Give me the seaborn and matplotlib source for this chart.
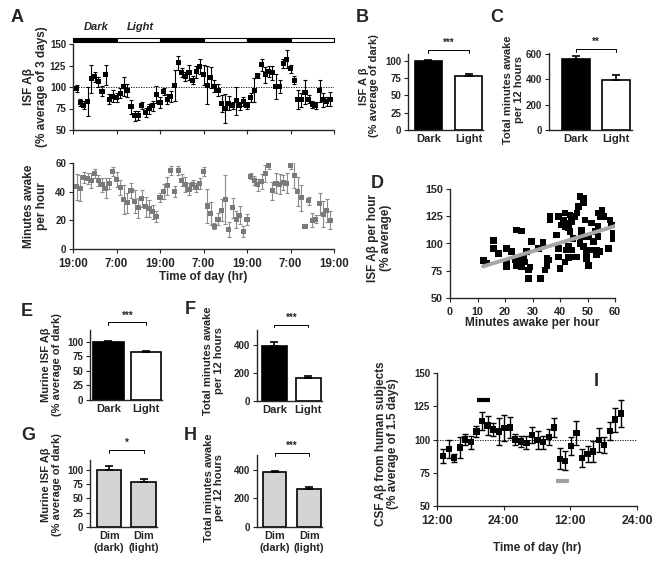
import numpy as np
import pandas as pd
import seaborn as sns
import matplotlib.pyplot as plt

sns.set_style('ticks')
plt.rcParams['font.family'] = ['Liberation Sans', 'DejaVu Sans']
plt.rcParams['font.weight'] = 'bold'
plt.rcParams['axes.labelweight'] = 'bold'
plt.rcParams['axes.linewidth'] = 1.0
plt.rcParams['xtick.major.size'] = 3
plt.rcParams['ytick.major.size'] = 3

# ---- data: panel A (hourly microdialysis / sleep) ----
hours_a = [1, 2, 3, 4, 5, 6, 7, 8, 9, 10, 11, 12, 13, 14, 15, 16, 17, 18, 19, 20,
           21, 22, 23, 24, 25, 26, 27, 28, 29, 30, 31, 32, 33, 34, 35, 36, 37, 38, 39, 40,
           41, 42, 43, 44, 45, 46, 47, 48, 49, 50, 51, 52, 53, 54, 55, 56, 57, 58, 59, 60,
           61, 62, 63, 64, 65, 66, 67, 68, 69, 70, 71]
isf_ab = [98, 82, 79, 83, 109.5, 112, 106, 95, 114, 86, 89, 88, 93, 101, 96, 77, 66.5, 67, 79, 70.5,
          74.5, 78, 91, 82, 95, 86, 89, 102, 128, 117, 112, 117, 108, 118, 124, 114, 102, 111, 101, 96,
          81, 75, 81, 79, 84, 78, 83, 79, 87.5, 96, 113, 126, 114, 118, 116.5, 100.5, 100.5, 127, 132.5, 121,
          108, 86, 85, 94, 86, 80, 79, 95.5, 85, 83, 86]
isf_ab_err = [4, 4, 5, 17, 16, 6, 6, 6, 12, 6, 7, 5, 6, 11, 8, 8, 6, 5, 4, 5,
              6, 6, 10, 6, 4, 6, 6, 18, 8, 5, 5, 9, 5, 7, 9, 12, 22, 12, 7, 7,
              10, 17, 8, 4, 16, 5, 5, 4, 5, 14, 2, 7, 9, 6, 8, 15, 8, 5, 10, 5,
              5, 11, 8, 14, 5, 4, 4, 13, 8, 5, 8]
awake = [43.5, 42.3, 50, 49.3, 47.7, 52.8, 47.7, 44.7, 42.3, 45.8, 54, 48.6, 42.8, 34.7, 32.3, 40.7, 33, 28.8, 35.1, 29.5,
         28.4, 26, 22.6, 35.8, 40, 44, 54.6, 40, 54.6, 48.1, 45.1, 41.7, 45.1, 42.8, 45.8, 54, 30, 24.9, 16, 20.9,
         27.2, 34.7, 13.7, 28.8, 20.7, 23.7, 12.1, 20.7, 50.9, 47.7, 44.7, 47, 52.8, 58.6, 40.5, 45.8, 45.1, 46.3, 45.8, 58.6,
         51.6, 40, 35.8, 15.6, 33.5, 20.2, 20.9, 31.4, 24.4, 26.7, 20.2]
awake_err = [9, 9, 4, 4, 5, 3, 4, 5, 7, 4, 3, 5, 5, 10, 7, 5, 8, 7, 6, 7,
             6, 5, 4, 3, 5, 6, 3, 4, 3, 4, 5, 4, 3, 3, 4, 3, 12, 8, 2, 4,
             8, 17, 5, 7, 6, 6, 4, 4, 2, 3, 4, 5, 6, 3, 6, 7, 7, 5, 7, 3,
             9, 10, 9, 1, 3, 5, 3, 8, 9, 8, 6]
phase_start = [0, 12, 24, 36, 48, 60]
phase = ['Dark', 'Light', 'Dark', 'Light', 'Dark', 'Light']
time_ticks_a = [0, 12, 24, 36, 48, 60, 72]
time_labels_a = ['19:00', '7:00', '19:00', '7:00', '19:00', '7:00', '19:00']

# ---- bar panels ----
cats_dl = ['Dark', 'Light']
cats_dim = ['Dim\n(dark)', 'Dim\n(light)']
b_mean, b_err = [100, 78], [1, 3]
c_mean, c_err = [555, 390], [25, 45]
e_mean, e_err = [100, 83], [2, 1.5]
f_mean, f_err = [390, 165], [30, 15]
g_mean, g_err = [100, 79], [7, 4]
h_mean, h_err = [385, 270], [5, 8]

# ---- panel D scatter ----
d_awake = [12.1, 13.3, 15.8, 15.8, 17.6, 20.6, 20.6, 20.6, 22.4, 23.6, 24.2, 24.2, 26, 24.8, 26, 26,
           26.7, 27.3, 27.9, 28.5, 28.5, 29.1, 29.7, 32.1, 33, 33.9, 34.5, 35.2, 35.8, 35.2, 36.4, 36.4,
           38.8, 39.4, 39.4, 39.4, 40, 40.6, 41.2, 41.8, 41.8, 42.4, 43, 43.6, 41.8, 42.4, 43, 43,
           43.6, 44.2, 44.8, 45.5, 46.1, 46.1, 44.8, 44.2, 46.7, 47.3, 47.9, 47.3, 48.5, 48.5, 47.9, 48.5,
           49.1, 49.7, 49.7, 50.3, 50.3, 50.9, 51.5, 52.1, 52.7, 53.3, 53.3, 53.9, 54.5, 53.9, 55.2, 55.8,
           57.6, 58.2, 58.8, 59.4, 59.4, 54.5, 53.9]
d_isf = [84.2, 82.3, 102.6, 95.5, 91, 95.5, 81.7, 79, 92.5, 84.8, 80, 112.5, 111.5, 86.3, 83.2, 78.6,
         88.5, 83.2, 92.5, 75.5, 67.8, 78.6, 101.7, 95.5, 67.8, 100.8, 75.5, 80, 84.8, 86.3, 124.8, 121.7,
         107.8, 124.8, 95.5, 87.8, 77, 117, 121.7, 127.8, 115.5, 118.6, 114, 111, 83.2, 94, 97.1, 87.2,
         126.3, 120.2, 104.8, 124.8, 127.8, 87.8, 87.8, 94, 134, 100.2, 112.5, 143.2, 141.7, 137, 106.3, 97.1,
         121.7, 91, 86.3, 80, 106.3, 94, 118.6, 101.7, 111, 94, 89.4, 127.8, 124.8, 115.5, 130.9, 124.8,
         95.5, 121.7, 117, 109.4, 104.8, 92.5, 106.3]
d_fit_x = [12, 60]
d_fit_y = [79, 116]

# ---- panel I (human CSF) ----
hours_i = [13.1, 14.1, 15.1, 16.1, 17.1, 18.1, 19.1, 20.1, 21.1, 22.1, 23.1, 24.1, 25.1, 26.1, 27.1, 28.1, 29.1,
           30.1, 31.1, 32.1, 33.1, 34.1, 35.1, 36.1, 37.1, 38.1, 39.1, 40.1, 41.1, 42.1, 43.1, 44.1, 45.1]
csf_ab = [87.5, 93, 86, 94, 100, 98, 106, 114, 110.5, 107.5, 106, 108.5, 109, 100, 98.5, 97.5, 103.5,
          99.5, 98, 102, 109, 85.5, 84, 95, 105, 86, 89, 91, 99.5, 96, 106.5, 115, 119.5]
csf_err = [5, 7, 3, 8, 4, 5, 4, 7, 7, 5, 10, 10, 8, 4, 4, 5, 6, 7, 5, 6, 7, 8, 7, 7, 9, 7, 6, 8, 9, 6, 7, 9, 10]
i_ticks = [12, 24, 36, 48]
i_labels = ['12:00', '24:00', '12:00', '24:00']

W, H = 662, 567
fig = plt.figure(figsize=(W / 100, H / 100), dpi=100)


def add_ax(left, top, right, bottom):
    # pixel box -> figure fraction
    return fig.add_axes([left / W, 1 - bottom / H, (right - left) / W, (bottom - top) / H])


def letter(x, y, s):
    fig.text(x / W, 1 - y / H, s, fontsize=13, fontweight='bold', ha='center', va='center')


def sig(ax, y, drop, stars, fs=7):
    ax.plot([0, 0, 1, 1], [y - drop, y, y, y - drop], color='black', lw=0.7, clip_on=False)
    ax.text(0.5, y + drop * 0.6, stars, ha='center', va='bottom', fontsize=fs)


def bar_panel(box, cats, mean, err, colors, ylim, yticks, width, xlim, ylabel, lab_xy,
              sig_y, drop, stars, cat_fs=8):
    ax = add_ax(*box)
    sns.barplot(x=cats, y=mean, hue=cats, palette=colors, width=width, edgecolor='black',
                linewidth=1.2, legend=False, errorbar=None, ax=ax)
    ax.errorbar([0, 1], mean, yerr=[[0, 0], err], fmt='none', ecolor='black',
                elinewidth=1.2, capsize=3, capthick=1.2, zorder=1)
    ax.set_xlim(*xlim)
    ax.set_ylim(*ylim)
    ax.set_yticks(yticks)
    ax.tick_params(axis='y', labelsize=7, pad=2)
    ax.tick_params(axis='x', labelsize=cat_fs, length=0, pad=3)
    ax.set_ylabel(ylabel, fontsize=8, va='center', linespacing=1.1)
    ax.yaxis.set_label_coords(*lab_xy)
    sns.despine(ax=ax)
    sig(ax, sig_y, drop, stars)
    return ax


# ---------- A top ----------
ax = add_ax(73, 44, 334, 130)
ax.errorbar(hours_a, isf_ab, yerr=isf_ab_err, fmt='none', ecolor='black', elinewidth=0.8,
            capsize=1.6, capthick=0.8)
sns.scatterplot(x=hours_a, y=isf_ab, marker='s', color='black', s=13, edgecolor='none', ax=ax, zorder=3)
ax.axhline(100, color='black', lw=0.6, ls=(0, (1.5, 1.5)))
ax.set_xlim(0, 72)
ax.set_ylim(50, 150)
ax.set_yticks([50, 75, 100, 125, 150])
ax.set_xticks(time_ticks_a)
ax.set_xticklabels([])
ax.tick_params(axis='y', labelsize=7, pad=2)
ax.bar(phase_start, 4.5, width=12, bottom=152.5, align='edge', clip_on=False,
       color=['black' if p == 'Dark' else 'white' for p in phase], edgecolor='black', lw=0.8)
ax.text(6.3, 170, 'Dark', fontsize=8, fontstyle='italic', ha='center', va='center')
ax.text(18.5, 170, 'Light', fontsize=8, fontstyle='italic', ha='center', va='center')
ax.set_ylabel('ISF Aβ\n(% average of 3 days)', fontsize=8.5, va='center', linespacing=1.1)
ax.yaxis.set_label_coords(-0.145, 0.5)
sns.despine(ax=ax)

# ---------- A bottom ----------
ax = add_ax(73, 163, 334, 249)
ax.errorbar(hours_a, awake, yerr=awake_err, fmt='none', ecolor='#8c8c8c', elinewidth=0.8,
            capsize=1.6, capthick=0.8)
sns.scatterplot(x=hours_a, y=awake, marker='s', color='#7a7a7a', s=13, edgecolor='none', ax=ax, zorder=3)
ax.set_xlim(0, 72)
ax.set_ylim(0, 60)
ax.set_yticks([0, 20, 40, 60])
ax.set_xticks(time_ticks_a)
ax.set_xticklabels(time_labels_a)
ax.tick_params(axis='y', labelsize=7, pad=2)
ax.tick_params(axis='x', labelsize=8.3)
ax.set_ylabel('Minutes awake\nper hour', fontsize=8.5, va='center', linespacing=1.1)
ax.yaxis.set_label_coords(-0.145, 0.5)
ax.set_xlabel('Time of day (hr)', fontsize=8.5, va='center')
ax.xaxis.set_label_coords(0.5, -0.33)
sns.despine(ax=ax)

# ---------- B, C ----------
bar_panel((408, 54, 483, 130), cats_dl, b_mean, b_err, ['black', 'white'], (0, 110),
          [0, 25, 50, 75, 100], 0.675, (-0.51, 1.36), 'ISF A β\n(% average of dark)',
          (-0.52, 0.58), 116, 4, '***')
bar_panel((549, 53, 632, 130), cats_dl, c_mean, c_err, ['black', 'white'], (0, 605),
          [0, 200, 400, 600], 0.7, (-0.675, 1.4), 'Total minutes awake\nper 12 hours',
          (-0.43, 0.52), 640, 25, '**')

# ---------- D ----------
ax = add_ax(450, 189, 615, 298)
sns.scatterplot(x=d_awake, y=d_isf, marker='s', color='black', s=22, edgecolor='none', ax=ax)
sns.lineplot(x=d_fit_x, y=d_fit_y, color='#a6a6a6', lw=2.8, ax=ax)
ax.set_xlim(0, 60)
ax.set_ylim(50, 150)
ax.set_xticks([0, 10, 20, 30, 40, 50, 60])
ax.set_yticks([50, 75, 100, 125, 150])
ax.tick_params(labelsize=7.8)
ax.tick_params(axis='y', pad=2)
ax.set_ylabel('ISF Aβ per hour\n(% average)', fontsize=8.5, va='center', linespacing=1.1)
ax.yaxis.set_label_coords(-0.43, 0.55)
ax.set_xlabel('Minutes awake per hour', fontsize=8.5, va='center')
ax.xaxis.set_label_coords(0.5, -0.23)
sns.despine(ax=ax)

# ---------- E, F, G, H ----------
bar_panel((90, 330, 162, 400), cats_dl, e_mean, e_err, ['black', 'white'], (0, 120),
          [0, 25, 50, 75, 100], 0.8, (-0.49, 1.42), 'Murine ISF Aβ\n(% average of dark)',
          (-0.54, 0.5), 133, 5, '***')
bar_panel((257, 330, 322, 401), cats_dl, f_mean, f_err, ['black', 'white'], (0, 505),
          [0, 200, 400], 0.74, (-0.51, 1.4), 'Total minutes awake\nper 12 hours',
          (-0.67, 0.57), 543, 20, '***')
bar_panel((90, 460, 157, 527), cats_dim, g_mean, g_err, ['#d4d4d4', '#d4d4d4'], (0, 117),
          [0, 25, 50, 75, 100], 0.71, (-0.55, 1.38), 'Murine ISF Aβ\n(% average of dark)',
          (-0.58, 0.63), 135, 5, '*', cat_fs=7.8)
bar_panel((257, 455, 322, 527), cats_dim, h_mean, h_err, ['#d4d4d4', '#d4d4d4'], (0, 505),
          [0, 200, 400], 0.68, (-0.51, 1.37), 'Total minutes awake\nper 12 hours',
          (-0.66, 0.55), 519, 20, '***', cat_fs=7.8)

# ---------- I ----------
ax = add_ax(437, 373, 637, 506)
ax.errorbar(hours_i, csf_ab, yerr=csf_err, fmt='none', ecolor='black', elinewidth=1.0,
            capsize=2.2, capthick=1.0)
sns.scatterplot(x=hours_i, y=csf_ab, marker='s', color='black', s=20, edgecolor='none', ax=ax, zorder=3)
ax.axhline(100, color='black', lw=0.6, ls=(0, (1.5, 1.5)))
ax.plot([19.2, 21.6], [129.5, 129.5], color='black', lw=3, solid_capstyle='butt')
ax.plot([33.5, 35.7], [68.75, 68.75], color='#a0a0a0', lw=3, solid_capstyle='butt')
ax.set_xlim(12, 48)
ax.set_ylim(50, 150)
ax.set_xticks(i_ticks)
ax.set_xticklabels(i_labels)
ax.set_yticks([50, 75, 100, 125, 150])
ax.tick_params(axis='y', labelsize=7, pad=2)
ax.tick_params(axis='x', labelsize=8.8)
ax.set_ylabel('CSF Aβ from human subjects\n(% average of 1.5 days)', fontsize=8.5, va='center',
              linespacing=1.1)
ax.yaxis.set_label_coords(-0.25, 0.47)
ax.set_xlabel('Time of day (hr)', fontsize=8.5, va='center')
ax.xaxis.set_label_coords(0.5, -0.316)
sns.despine(ax=ax)

for s, x, y in [('A', 17, 17), ('B', 362, 17), ('C', 497, 17), ('D', 377, 183), ('E', 27, 311),
                ('F', 190, 310), ('G', 28, 435), ('H', 190, 435), ('I', 596, 382)]:
    letter(x, y, s)

fig.savefig('out.png', dpi=100)
